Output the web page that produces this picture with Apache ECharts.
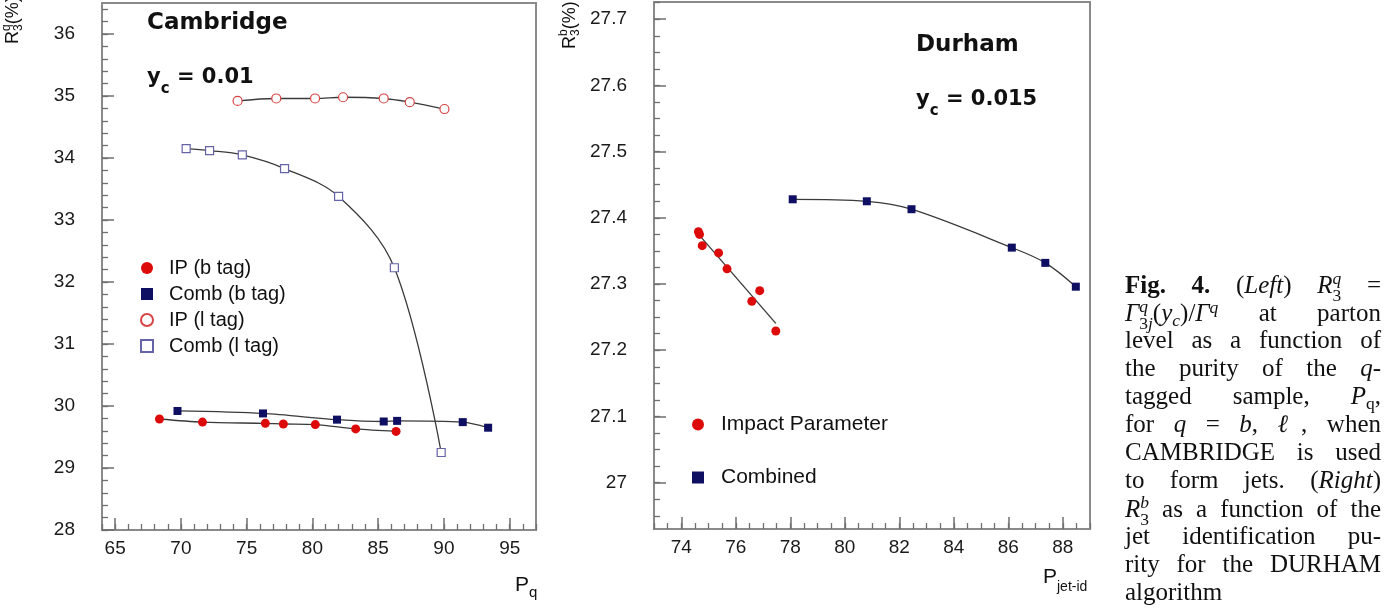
<!DOCTYPE html>
<html>
<head>
<meta charset="utf-8">
<script src="https://cdn.jsdelivr.net/npm/echarts@6.0.0/dist/echarts.min.js"></script>
<style>
html,body{margin:0;padding:0;background:#fff;}
#chart{position:absolute;left:0;top:0;width:1385px;height:610px;}
#cap{position:absolute;left:1125px;top:270px;width:256px;font-family:"Liberation Serif","Times New Roman",serif;font-size:25px;color:#111;}
#cap .l{height:28px;line-height:28px;text-align:justify;text-align-last:justify;white-space:nowrap;}
#cap .last{text-align:left;text-align-last:left;}
#cap sup,#cap sub{font-size:0.7em;line-height:0;vertical-align:0;position:relative;}
#cap sup{top:-0.45em;}
#cap sub{top:0.28em;}
#cap .ss{display:inline-block;vertical-align:-0.45em;font-size:0.7em;line-height:0.95em;text-align:left;text-align-last:left;}
#cap .ss span{display:block;}
</style>
</head>
<body>
<div id="chart"></div>
<div id="cap">
<div class="l"><b>Fig. 4.</b> (<i>Left</i>) <i>R</i><span class="ss"><span><i>q</i></span><span>3</span></span> =</div>
<div class="l"><i>Γ</i><span class="ss"><span><i>q</i></span><span>3<i>j</i></span></span>(<i>y</i><sub><i>c</i></sub>)/<i>Γ</i><sup><i>q</i></sup> at parton</div>
<div class="l">level as a function of</div>
<div class="l">the purity of the <i>q</i>-</div>
<div class="l">tagged sample, <i>P</i><sub>q</sub>,</div>
<div class="l">for <i>q</i> = <i>b</i>, <i>ℓ</i>, when</div>
<div class="l">CAMBRIDGE is used</div>
<div class="l">to form jets. (<i>Right</i>)</div>
<div class="l"><i>R</i><span class="ss"><span><i>b</i></span><span>3</span></span> as a function of the</div>
<div class="l">jet identification pu-</div>
<div class="l">rity for the DURHAM</div>
<div class="l last">algorithm</div>
</div>
<script>
// ---------- data: left panel (Cambridge, y_c = 0.01) ----------
const ipB_P   = [68.37, 71.64, 76.42, 77.79, 80.22, 83.29, 86.36];
const ipB_R   = [29.79, 29.74, 29.72, 29.71, 29.70, 29.63, 29.59];
const combB_P = [69.74, 76.24, 81.87, 85.42, 86.44, 91.43, 93.36];
const combB_R = [29.92, 29.88, 29.78, 29.75, 29.76, 29.74, 29.65];
const ipL_P   = [74.31, 77.25, 80.20, 82.33, 85.42, 87.40, 90.04];
const ipL_R   = [34.92, 34.96, 34.96, 34.98, 34.96, 34.90, 34.79];
const combL_P = [70.40, 72.18, 74.67, 77.88, 81.99, 86.23, 89.79];
const combL_R = [34.15, 34.12, 34.05, 33.83, 33.38, 32.23, 29.25];
// ---------- data: right panel (Durham, y_c = 0.015) ----------
const ipD_P   = [74.63, 74.67, 74.77, 75.37, 75.68, 76.59, 76.88, 77.47];
const ipD_R   = [27.379, 27.375, 27.358, 27.347, 27.323, 27.274, 27.290, 27.229];
const combD_P = [78.09, 80.81, 82.45, 86.13, 87.36, 88.48];
const combD_R = [27.428, 27.425, 27.413, 27.355, 27.332, 27.296];
// ---------- tick labels ----------
const leftXTicks  = [65, 70, 75, 80, 85, 90, 95];
const leftYTicks  = [28, 29, 30, 31, 32, 33, 34, 35, 36];
const rightXTicks = [74, 76, 78, 80, 82, 84, 86, 88];
const rightYTicks = [27, 27.1, 27.2, 27.3, 27.4, 27.5, 27.6, 27.7];
const leftLegend  = ['IP (b tag)', 'Comb (b tag)', 'IP (l tag)', 'Comb (l tag)'];
const rightLegend = ['Impact Parameter', 'Combined'];

function zip(a, b) { return a.map((v, i) => [v, b[i]]); }
function steps(a, b, s) { const n = Math.round((b - a) / s); return Array.from({length: n + 1}, (_, i) => +(a + i * s).toFixed(4)); }
function linFit(xs, ys) {
  const n = xs.length, mx = xs.reduce((s, v) => s + v, 0) / n, my = ys.reduce((s, v) => s + v, 0) / n;
  let sxy = 0, sxx = 0;
  xs.forEach((x, i) => { sxy += (x - mx) * (ys[i] - my); sxx += (x - mx) * (x - mx); });
  const b = sxy / sxx, a = my - b * mx;
  const x0 = Math.min(...xs), x1 = Math.max(...xs);
  return [[x0, a + b * x0], [x1, a + b * x1]];
}

const SANS = '"Liberation Sans", Arial, Helvetica, sans-serif';
const BOLD = '"DejaVu Sans", sans-serif';
const RED = '#dd0a0a', NAVY = '#0e0e62', LRED = '#d84444', LBLUE = '#6464a6';
const FRAME = '#8a8a8a', TICK = '#6f6f6f', CURVE = '#3a3a3a';

const cv = document.createElement('canvas').getContext('2d');
function measure(t, font) { cv.font = font; return cv.measureText(t).width; }
function mathRun(x, y, parts, opt) {
  const fam = opt.family, wt = opt.weight || 'normal', fill = opt.fill || '#111';
  let cx = 0, pend = 0; const kids = [];
  parts.forEach(p => {
    const font = (p.it ? 'italic ' : '') + wt + ' ' + p.fs + 'px ' + fam;
    const w = measure(p.t, font);
    kids.push({type: 'text', x: cx, y: (p.dy || 0) - 0.35 * p.fs, silent: true,
      style: {text: p.t, font: font, fill: fill, align: 'left', verticalAlign: 'middle', textAlign: 'left', textVerticalAlign: 'middle'}});
    if (p.stack) { pend = Math.max(pend, w); } else { cx += Math.max(w, pend); pend = 0; }
  });
  return {type: 'group', x: x, y: y, rotation: opt.rotation || 0, silent: true, children: kids};
}

function mainX(grid, min, max, ticks) {
  return {gridIndex: grid, type: 'value', min: min, max: max,
    axisLine: {show: true, onZero: false, lineStyle: {color: FRAME, width: 2}},
    axisTick: {show: true, inside: true, length: 12, customValues: ticks, lineStyle: {color: TICK, width: 1.5}},
    axisLabel: {show: true, customValues: ticks, margin: 9, fontFamily: SANS, fontSize: 19, color: '#1a1a1a'},
    splitLine: {show: false}};
}
function mainY(grid, min, max, ticks) {
  return {gridIndex: grid, type: 'value', min: min, max: max,
    axisLine: {show: true, onZero: false, lineStyle: {color: FRAME, width: 2}},
    axisTick: {show: true, inside: true, length: 12, customValues: ticks, lineStyle: {color: TICK, width: 1.5}},
    axisLabel: {show: true, customValues: ticks, margin: 27, fontFamily: SANS, fontSize: 19, color: '#1a1a1a'},
    splitLine: {show: false}};
}
function minorAx(grid, min, max, ticks) {
  return {gridIndex: grid, type: 'value', min: min, max: max,
    axisLine: {show: false},
    axisTick: {show: true, inside: true, length: 6, customValues: ticks, lineStyle: {color: TICK, width: 1.3}},
    axisLabel: {show: false}, splitLine: {show: false}};
}
function curve(name, xi, data, smooth) {
  return {name: name, type: 'line', xAxisIndex: xi, yAxisIndex: xi, data: data, smooth: smooth,
    symbol: 'none', showSymbol: false, silent: true, z: 2,
    lineStyle: {color: CURVE, width: 1.3, opacity: 1}};
}
function pts(name, xi, data, symbol, size, style) {
  return {name: name, type: 'scatter', xAxisIndex: xi, yAxisIndex: xi, data: data, symbol: symbol,
    symbolSize: size, silent: true, z: 3, itemStyle: Object.assign({opacity: 1}, style)};
}

const L = {min: 64, max: 97}, LY = {min: 28, max: 36.5};
const R = {min: 73, max: 89}, RY = {min: 26.93, max: 27.726};
const gL = {left: 102, top: 3, width: 434, height: 527};
const gR = {left: 654, top: 2, width: 436, height: 527};

const legendBase = {orient: 'vertical', padding: 0, selectedMode: false, itemWidth: 12, itemHeight: 12,
  textStyle: {fontFamily: SANS, fontSize: 20, color: '#111', lineHeight: 20}};

const option = {
  animation: false,
  backgroundColor: '#fff',
  grid: [
    Object.assign({show: true, borderColor: FRAME, borderWidth: 2, outerBoundsMode: 'none'}, gL),
    Object.assign({show: true, borderColor: FRAME, borderWidth: 2, outerBoundsMode: 'none'}, gR),
    Object.assign({show: false, outerBoundsMode: 'none'}, gL),
    Object.assign({show: false, outerBoundsMode: 'none'}, gR)
  ],
  xAxis: [
    mainX(0, L.min, L.max, leftXTicks),
    mainX(1, R.min, R.max, rightXTicks),
    minorAx(2, L.min, L.max, steps(64, 97, 1)),
    minorAx(3, R.min, R.max, steps(73, 89, 0.5))
  ],
  yAxis: [
    mainY(0, LY.min, LY.max, leftYTicks),
    mainY(1, RY.min, RY.max, rightYTicks),
    minorAx(2, LY.min, LY.max, steps(28, 36.4, 0.2)),
    minorAx(3, RY.min, RY.max, steps(26.95, 27.725, 0.025))
  ],
  legend: [
    Object.assign({}, legendBase, {data: leftLegend, left: 140, top: 258, itemGap: 6,
      textStyle: Object.assign({}, legendBase.textStyle, {padding: [0, 0, 0, 11]})}),
    Object.assign({}, legendBase, {data: rightLegend, left: 692, top: 414, itemGap: 32,
      textStyle: Object.assign({}, legendBase.textStyle, {fontSize: 21, padding: [0, 0, 0, 12]})})
  ],
  series: [
    curve('c_ipB', 0, zip(ipB_P, ipB_R), 0.3),
    curve('c_combB', 0, zip(combB_P, combB_R), 0.3),
    curve('c_ipL', 0, zip(ipL_P, ipL_R), 0.35),
    curve('c_combL', 0, zip(combL_P, combL_R), 0.35),
    pts('IP (b tag)', 0, zip(ipB_P, ipB_R), 'circle', 9, {color: RED}),
    pts('Comb (b tag)', 0, zip(combB_P, combB_R), 'rect', 8, {color: NAVY}),
    pts('IP (l tag)', 0, zip(ipL_P, ipL_R), 'circle', 9, {color: '#fff', borderColor: LRED, borderWidth: 1.2}),
    pts('Comb (l tag)', 0, zip(combL_P, combL_R), 'rect', 8, {color: '#fff', borderColor: LBLUE, borderWidth: 1.2}),
    curve('c_ipD', 1, linFit(ipD_P, ipD_R), false),
    curve('c_combD', 1, zip(combD_P, combD_R), 0.35),
    pts('Impact Parameter', 1, zip(ipD_P, ipD_R), 'circle', 9, {color: RED}),
    pts('Combined', 1, zip(combD_P, combD_R), 'rect', 8, {color: NAVY})
  ],
  graphic: {elements: [
    mathRun(147, 31, [{t: 'Cambridge', fs: 23}], {family: BOLD, weight: 'bold'}),
    mathRun(147, 85, [{t: 'y', fs: 21}, {t: 'c', fs: 15, dy: 9}, {t: ' = 0.01', fs: 21}], {family: BOLD, weight: 'bold'}),
    mathRun(916, 53, [{t: 'Durham', fs: 23}], {family: BOLD, weight: 'bold'}),
    mathRun(916, 107, [{t: 'y', fs: 21}, {t: 'c', fs: 15, dy: 9}, {t: ' = 0.015', fs: 21}], {family: BOLD, weight: 'bold'}),
    mathRun(19, 44, [{t: 'R', fs: 18}, {t: 'q', fs: 12, dy: -8, stack: true}, {t: '3', fs: 12, dy: 4}, {t: '(%)', fs: 18}], {family: SANS, rotation: Math.PI / 2}),
    mathRun(576, 49, [{t: 'R', fs: 18}, {t: 'b', fs: 12, dy: -8, stack: true}, {t: '3', fs: 12, dy: 4}, {t: '(%)', fs: 18}], {family: SANS, rotation: Math.PI / 2}),
    mathRun(515, 593, [{t: 'P', fs: 21}, {t: 'q', fs: 15, dy: 5}], {family: SANS}),
    mathRun(1043, 585, [{t: 'P', fs: 21}, {t: 'jet-id', fs: 14, dy: 7}], {family: SANS})
  ]}
};

const chart = echarts.init(document.getElementById('chart'), null, {renderer: 'canvas'});
chart.setOption(option);
</script>
</body>
</html>
